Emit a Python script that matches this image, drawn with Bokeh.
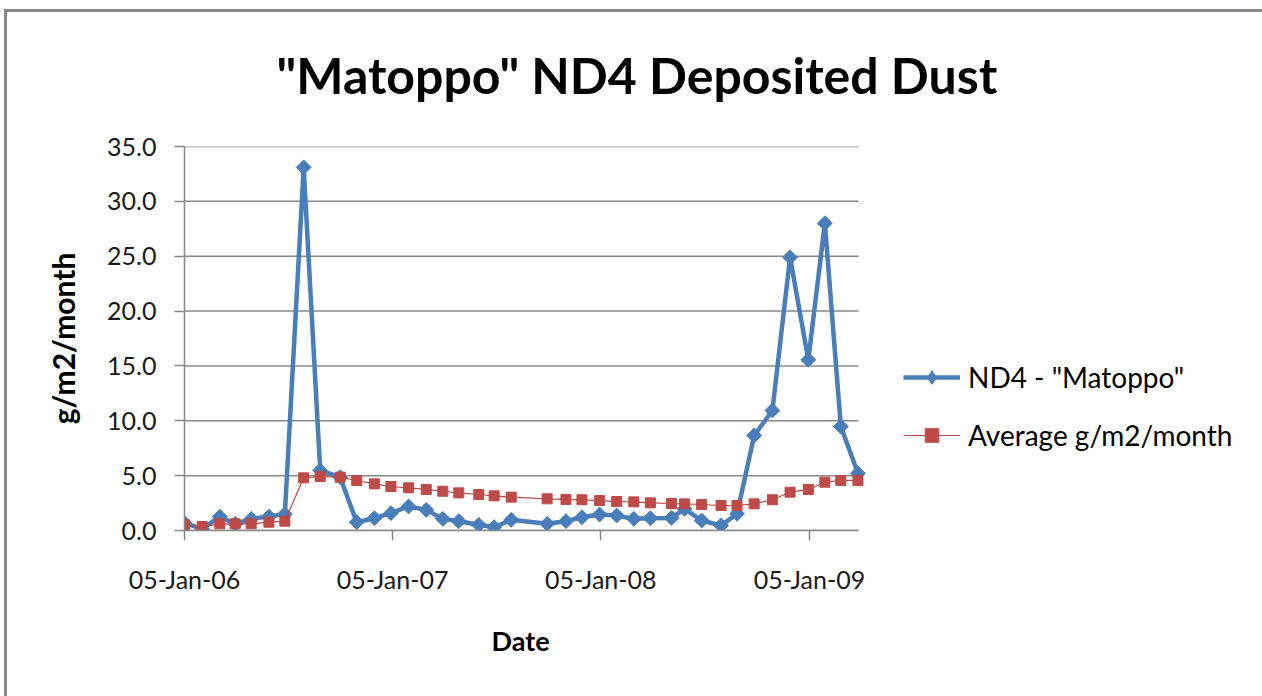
import numpy as np
import pandas as pd
from bokeh.plotting import figure
from bokeh.models import (Range1d, FixedTicker, DatetimeTickFormatter, NumeralTickFormatter,
                          Legend, LegendItem, ColumnDataSource, Title, InlineStyleSheet)
from bokeh.embed import file_html
from bokeh.resources import INLINE

# ---------------- data ----------------
sample_dates = [
    "2006-01-05", "2006-02-05", "2006-03-08", "2006-04-04", "2006-05-02", "2006-06-02",
    "2006-06-30", "2006-08-02", "2006-08-31", "2006-10-05", "2006-11-03", "2006-12-04",
    "2007-01-02", "2007-02-02", "2007-03-05", "2007-04-03", "2007-05-01", "2007-06-05",
    "2007-07-02", "2007-08-01", "2007-10-03", "2007-11-05", "2007-12-03", "2008-01-03",
    "2008-02-02", "2008-03-03", "2008-04-01", "2008-05-08", "2008-05-31", "2008-06-30",
    "2008-08-03", "2008-08-31", "2008-09-30", "2008-11-01", "2008-12-02", "2009-01-03",
    "2009-02-01", "2009-03-01", "2009-03-31",
]
nd4_matoppo = [
    0.67, 0.15, 1.27, 0.60, 1.05, 1.27, 1.50, 33.1, 5.47, 4.86, 0.76, 1.12,
    1.58, 2.19, 1.88, 1.06, 0.85, 0.52, 0.30, 0.97, 0.61, 0.85, 1.21, 1.46,
    1.37, 1.06, 1.12, 1.15, 1.97, 0.91, 0.46, 1.52, 8.66, 10.94, 24.9, 15.56,
    28.0, 9.48, 5.22,
]
average_gm2 = [
    0.52, 0.36, 0.61, 0.61, 0.61, 0.76, 0.85, 4.80, 4.92, 4.86, 4.56, 4.25,
    4.01, 3.89, 3.74, 3.58, 3.43, 3.28, 3.16, 3.04, 2.89, 2.83, 2.80, 2.73,
    2.64, 2.61, 2.52, 2.46, 2.43, 2.37, 2.28, 2.28, 2.43, 2.80, 3.49, 3.74,
    4.40, 4.56, 4.56,
]
x_tick_dates = ["2006-01-05", "2007-01-05", "2008-01-05", "2009-01-05"]
x_axis_dates = ["2006-01-05", "2009-04-01"]
y_ticks = [0, 5, 10, 15, 20, 25, 30, 35]
series_names = ['ND4 - "Matoppo"', "Average g/m2/month"]
title_text = '"Matoppo" ND4 Deposited Dust'
x_label = "Date"
y_label = "g/m2/month"

# ---------------- helpers ----------------
def to_ms(s):
    return pd.Timestamp(s).value / 1e6

src = ColumnDataSource(dict(
    x=[to_ms(d) for d in sample_dates],
    nd4=nd4_matoppo,
    avg=average_gm2,
))

FONT = "Lato"
GRID = "#888888"
BLUE = "#4A7EBB"
RED = "#BE4B48"

# layout (pixels): frame spans the plotting area plus the legend zone on its right;
# the date axis occupies only the first part of it
W, H = 1262, 696
LEFT, RIGHT, TOP, BOTTOM = 184, 12, 146, 166
frame_w = W - LEFT - RIGHT
axis_w = 674
x0, x1 = to_ms(x_axis_dates[0]), to_ms(x_axis_dates[1])
x_end = x0 + (x1 - x0) * frame_w / axis_w

p = figure(width=W, height=H, output_backend="svg", toolbar_location=None,
           x_axis_type="datetime",
           x_range=Range1d(x0, x_end),
           y_range=Range1d(y_ticks[0], y_ticks[-1]),
           min_border_left=LEFT, min_border_right=RIGHT, min_border_top=TOP,
           min_border_bottom=BOTTOM)
p.outline_line_color = None
p.background_fill_color = "white"
p.border_fill_color = "white"
# chart-area border (top and left edges only, as in the reference)
p.stylesheets = [InlineStyleSheet(css=(
    ":host::before { content: ''; position: absolute; left: 4px; top: 9px; right: 0; bottom: 0; "
    "border-top: 3px solid #8a8a8a; border-left: 3px solid #8a8a8a; "
    "pointer-events: none; z-index: 10; }"))]

# title
p.title.text = title_text
p.title.align = "left"
p.title.offset = 92
p.title.standoff = 84
p.title.text_font = FONT
p.title.text_font_style = "bold"
p.title.text_font_size = "50px"
p.title.text_color = "black"

# axes
p.xaxis.ticker = FixedTicker(ticks=[to_ms(d) for d in x_tick_dates])
fmt = "%d-%b-%y"
p.xaxis.formatter = DatetimeTickFormatter(microseconds=fmt, milliseconds=fmt, seconds=fmt, minsec=fmt,
                                          minutes=fmt, hourmin=fmt, hours=fmt, days=fmt,
                                          months=fmt, years=fmt)
p.xaxis.bounds = (x0, x1)
p.yaxis.ticker = FixedTicker(ticks=y_ticks)
p.yaxis.formatter = NumeralTickFormatter(format="0.0")
for ax in (p.xaxis, p.yaxis):
    ax.axis_line_color = GRID
    ax.axis_line_width = 1.5
    ax.major_tick_line_color = GRID
    ax.major_tick_line_width = 1.5
    ax.major_tick_out = 10
    ax.major_tick_in = 0
    ax.minor_tick_line_color = None
    ax.major_label_text_font = FONT
    ax.major_label_text_font_size = "25px"
    ax.major_label_text_color = "#1a1a1a"
    ax.axis_label_text_font = FONT
    ax.axis_label_text_font_style = "bold"
    ax.axis_label_text_color = "black"
p.yaxis.major_label_standoff = 18
p.xaxis.major_label_standoff = 23
p.yaxis.axis_label = y_label
p.yaxis.axis_label_text_font_size = "30px"
p.yaxis.axis_label_standoff = 23

date_title = Title(text=x_label, align="left", offset=307, standoff=51,
                   text_font=FONT, text_font_style="bold", text_font_size="27px",
                   text_color="black")
p.add_layout(date_title, "below")

# horizontal gridlines, only across the date axis
p.xgrid.visible = False
p.ygrid.visible = False
p.segment(x0=[x0] * len(y_ticks), x1=[x1] * len(y_ticks), y0=y_ticks, y1=y_ticks,
          line_color=GRID, line_width=1.5)

# series
bl = p.line("x", "nd4", source=src, line_color=BLUE, line_width=4.5)
# diamond key symbol for the legend; fully covered by the rotated squares below
bkey = p.scatter("x", "nd4", source=src, marker="diamond", size=13,
                 fill_color=BLUE, line_color=BLUE)
bm = p.scatter("x", "nd4", source=src, marker="square", angle=np.pi / 4, size=10.5,
               fill_color=BLUE, line_color=BLUE)
rl = p.line("x", "avg", source=src, line_color=RED, line_width=1.2)
rm = p.scatter("x", "avg", source=src, marker="square", size=10, fill_color=RED, line_color=RED)

legend = Legend(items=[LegendItem(label=series_names[0], renderers=[bl, bkey]),
                       LegendItem(label=series_names[1], renderers=[rl, rm])],
                location=(719, 78), padding=0, margin=0, spacing=24,
                glyph_width=57, glyph_height=34, label_height=34, label_standoff=8,
                border_line_alpha=0, background_fill_alpha=0,
                label_text_font=FONT, label_text_font_size="28px", label_text_color="black")
p.add_layout(legend, "center")

open("out.html", "w").write(file_html(p, INLINE))
